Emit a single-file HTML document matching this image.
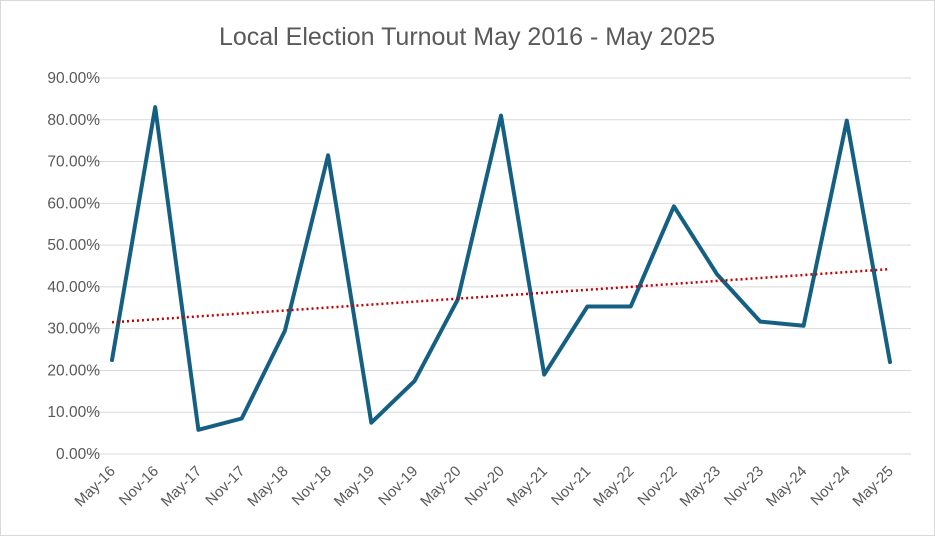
<!DOCTYPE html>
<html><head><meta charset="utf-8"><style>
html,body{margin:0;padding:0;background:#fff;}
svg{display:block;font-family:"Liberation Sans",Arial,sans-serif;}
</style></head><body>
<svg id="chart" width="935" height="536" viewBox="0 0 935 536" xmlns="http://www.w3.org/2000/svg">
<rect x="0.5" y="0.5" width="934" height="535" fill="#fff" stroke="#d9d9d9"/>
<text x="467" y="45" text-anchor="middle" font-size="25" fill="#595959">Local Election Turnout May 2016 - May 2025</text>
<g id="grid"></g>
<g id="yaxis"></g>
<g id="xaxis"></g>
<g id="series"></g>
</svg>
<script>
const categories = ["May-16","Nov-16","May-17","Nov-17","May-18","Nov-18","May-19","Nov-19","May-20","Nov-20","May-21","Nov-21","May-22","Nov-22","May-23","Nov-23","May-24","Nov-24","May-25"];
const turnout = [22.5,83,5.8,8.5,29.5,71.5,7.5,17.5,37,81,19,35.3,35.3,59.3,43,31.7,30.7,79.8,22];
const yTicks = [0,10,20,30,40,50,60,70,80,90];
const yTickLabels = ["0.00%","10.00%","20.00%","30.00%","40.00%","50.00%","60.00%","70.00%","80.00%","90.00%"];

const NS="http://www.w3.org/2000/svg";
const x0=112, x1=890, yBase=454, yTop=78, plotL=88, plotR=911;
const xs=i=>x0+(x1-x0)*i/(categories.length-1);
const ys=v=>yBase-(yBase-yTop)*v/90;
function mk(tag,attrs,parent){const e=document.createElementNS(NS,tag);for(const k in attrs)e.setAttribute(k,attrs[k]);parent.appendChild(e);return e;}
const grid=document.getElementById('grid'),ya=document.getElementById('yaxis'),xa=document.getElementById('xaxis'),se=document.getElementById('series');
yTicks.forEach((t,i)=>{
  const l=mk('line',{x1:plotL,x2:plotR,y1:ys(t),y2:ys(t),stroke:'#d9d9d9','stroke-width':1},grid);
  
  
  const tx=mk('text',{x:100,y:ys(t)+5,'text-anchor':'end','font-size':15.5,fill:'#595959'},ya);
  tx.textContent=yTickLabels[i];
  
  
});
categories.forEach((c,i)=>{
  const x=xs(i),y=472;
  const tx=mk('text',{x:x+4,y:y,'text-anchor':'end','font-size':15,fill:'#595959',transform:`rotate(-45 ${x+4} ${y})`},xa);
  tx.textContent=c;
  
  
});
const pts=turnout.map((v,i)=>xs(i).toFixed(1)+','+ys(v).toFixed(1)).join(' ');
const line=mk('polyline',{points:pts,fill:'none',stroke:'#156082','stroke-width':4,'stroke-linejoin':'round','stroke-linecap':'round'},se);


const n=turnout.length;let sx=0,sy=0,sxy=0,sxx=0;
turnout.forEach((v,i)=>{sx+=i;sy+=v;sxy+=i*v;sxx+=i*i;});
const b=(n*sxy-sx*sy)/(n*sxx-sx*sx),a=(sy-b*sx)/n;
const tr=mk('line',{x1:xs(0),y1:ys(a),x2:xs(n-1),y2:ys(a+b*(n-1)),stroke:'#c00000','stroke-width':2.5,'stroke-dasharray':'2 3'},se);


</script>
</body></html>
